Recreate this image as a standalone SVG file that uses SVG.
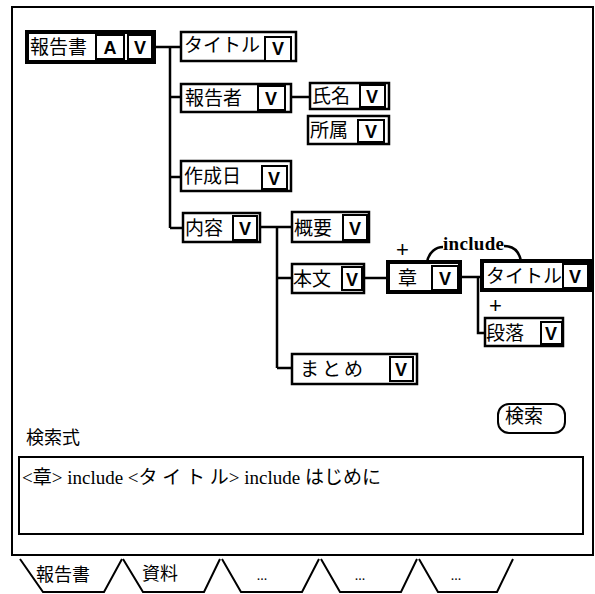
<svg xmlns="http://www.w3.org/2000/svg" width="595" height="594" viewBox="0 0 595 594">
<style>
.frame{fill:#fff;stroke:#000;stroke-width:2}
.box{fill:#fff;stroke:#000;stroke-width:2.5}
.hl{fill:#fff;stroke:#000;stroke-width:4}
.cell{fill:#fff;stroke:#000;stroke-width:2}
.lbl{font-family:"Noto Sans CJK JP","Noto Sans",sans-serif;font-size:19px;fill:#000}
.v{font-family:"Liberation Sans",sans-serif;font-size:18px;font-weight:bold;fill:#000;text-anchor:middle}
.conn{fill:none;stroke:#000;stroke-width:2.5}
.txt{font-family:"Noto Sans CJK JP",sans-serif;font-size:17px;fill:#000}
.ser{font-family:"Liberation Serif","Noto Sans CJK JP",serif;font-size:19px;fill:#000}
.plus{font-family:"Liberation Sans",sans-serif;font-size:22px;fill:#000}
.tab{fill:#fff;stroke:#000;stroke-width:2}
</style>
<rect class="frame" x="12" y="7" width="581" height="548"/>

<g id="connectors">
<path class="conn" d="M154,47 H181 M170,47 V228 M170,97 H181 M170,177 H181 M170,228 H183"/>
<path class="conn" d="M291,97 H310"/>
<path class="conn" d="M260,227 H292 M277,227 V368 M277,278 H292 M277,368 H292"/>
<path class="conn" d="M364,278 H388"/>
<path class="conn" d="M460,277 H482 M478,277 V333 H485"/>
<path class="conn" d="M427,262 C429,252 436,247 443,247"/>
<path class="conn" d="M504,246 C513,246 519,251 521,261"/>
<text class="ser" x="443" y="250" style="font-size:19px;font-weight:bold" textLength="61">include</text>
</g>

<g id="n-houkokusho">
<rect class="hl" x="27" y="32" width="127" height="30"/>
<rect class="cell" x="96" y="35" width="28" height="24"/>
<rect class="cell" x="128" y="35" width="24" height="24"/>
<text class="lbl" x="30" y="54">報告書</text>
<text class="v" x="110" y="54">A</text>
<text class="v" x="140" y="54">V</text>
</g>

<g id="n-title1">
<rect class="box" x="181" y="32" width="115" height="29"/>
<rect class="cell" x="265" y="37" width="26" height="24"/>
<text class="lbl" x="184" y="52">タイトル</text>
<text class="v" x="278" y="55">V</text>
</g>

<g id="n-houkokusha">
<rect class="box" x="181" y="84" width="110" height="28"/>
<rect class="cell" x="258" y="86" width="27" height="24"/>
<text class="lbl" x="185" y="105">報告者</text>
<text class="v" x="271" y="105">V</text>
</g>

<g id="n-shimei">
<rect class="box" x="310" y="83" width="79" height="26"/>
<rect class="cell" x="360" y="85" width="25" height="22"/>
<text class="lbl" x="312" y="103">氏名</text>
<text class="v" x="372" y="103">V</text>
</g>

<g id="n-shozoku">
<rect class="box" x="308" y="116" width="81" height="28"/>
<rect class="cell" x="358" y="120" width="26" height="22"/>
<text class="lbl" x="310" y="137">所属</text>
<text class="v" x="371" y="138">V</text>
</g>

<g id="n-sakuseibi">
<rect class="box" x="181" y="161" width="110" height="30"/>
<rect class="cell" x="262" y="166" width="25" height="23"/>
<text class="lbl" x="184" y="183">作成日</text>
<text class="v" x="274" y="185">V</text>
</g>

<g id="n-naiyou">
<rect class="box" x="183" y="213" width="77" height="29"/>
<rect class="cell" x="233" y="216" width="24" height="24"/>
<text class="lbl" x="185" y="235">内容</text>
<text class="v" x="245" y="235">V</text>
</g>

<g id="n-gaiyou">
<rect class="box" x="292" y="212" width="77" height="30"/>
<rect class="cell" x="343" y="215" width="24" height="25"/>
<text class="lbl" x="294" y="235">概要</text>
<text class="v" x="355" y="235">V</text>
</g>

<g id="n-honbun">
<rect class="box" x="292" y="264" width="72" height="29"/>
<rect class="cell" x="342" y="267" width="20" height="23"/>
<text class="lbl" x="293" y="286">本文</text>
<text class="v" x="352" y="286">V</text>
</g>

<g id="n-shou">
<text class="plus" x="396" y="257">+</text>
<rect class="hl" x="388" y="262" width="72" height="30"/>
<rect class="cell" x="432" y="266" width="26" height="24"/>
<text class="lbl" x="398" y="285">章</text>
<text class="v" x="445" y="285">V</text>
</g>

<g id="n-title2">
<rect class="hl" x="482" y="261" width="108" height="29"/>
<rect class="cell" x="563" y="264" width="25" height="24"/>
<text class="lbl" x="486" y="283">タイトル</text>
<text class="v" x="575" y="283">V</text>
</g>

<g id="n-danraku">
<text class="plus" x="489" y="313">+</text>
<rect class="box" x="485" y="318" width="78" height="28"/>
<rect class="cell" x="541" y="322" width="21" height="22"/>
<text class="lbl" x="486" y="340">段落</text>
<text class="v" x="551" y="340">V</text>
</g>

<g id="n-matome">
<rect class="box" x="292" y="354" width="125" height="30"/>
<rect class="cell" x="390" y="357" width="23" height="24"/>
<text class="lbl" x="300" y="376" letter-spacing="3">まとめ</text>
<text class="v" x="401" y="376">V</text>
</g>

<g id="search-button">
<rect class="frame" x="498" y="404" width="67" height="29" rx="11"/>
<text class="txt" x="505" y="423" style="font-size:19px">検索</text>
</g>

<g id="query">
<text class="txt" x="26" y="444" style="font-size:18px">検索式</text>
<rect class="frame" x="19" y="457" width="564" height="77"/>
<text class="ser" x="22" y="484">&lt;章&gt; include &lt;タ イ ト ル&gt; include はじめに</text>
</g>

<g id="tabs">
<path class="tab" d="M20,559 L43,592 H104 L122,559"/>
<path class="tab" d="M123,559 L143,592 H204 L220,559"/>
<path class="tab" d="M222,559 L241,592 H302 L319,559"/>
<path class="tab" d="M321,559 L340,592 H401 L417,559"/>
<path class="tab" d="M419,559 L438,592 H497 L513,559"/>
<text class="txt" x="36" y="581" style="font-size:18px">報告書</text>
<text class="txt" x="142" y="580" style="font-size:18px">資料</text>
<text class="ser" x="262" y="580" text-anchor="middle" style="font-size:14px">...</text>
<text class="ser" x="360" y="580" text-anchor="middle" style="font-size:14px">...</text>
<text class="ser" x="456" y="580" text-anchor="middle" style="font-size:14px">...</text>
</g>
</svg>
